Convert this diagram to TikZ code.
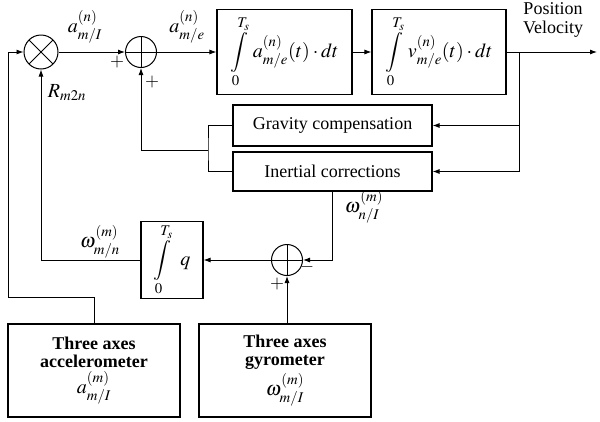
\documentclass[tikz,border=0pt]{standalone}
\usepackage{mathptmx}
\usepackage{fontspec}
\setmainfont{Liberation Serif}
\usetikzlibrary{arrows.meta}
\begin{document}
\begin{tikzpicture}[x=1pt,y=-1pt,
  every node/.style={font=\fontsize{18}{20}\selectfont},
  line/.style={draw=black, line width=0.9pt},
  arr/.style={line, -{Latex[length=7pt,width=5pt]}},
  blk/.style={draw=black, line width=1.1pt, rectangle, inner sep=0pt, align=center},
  mathblk/.style={blk, font=\fontsize{20}{22}\selectfont},
  sensor/.style={draw=black, line width=2.6pt, rectangle, inner sep=0pt, align=center, minimum width=172pt, minimum height=93pt},
  mulop/.style={circle, draw=black, line width=1pt, minimum size=34pt, inner sep=0pt,
     path picture={\draw[line width=1pt] (path picture bounding box.north west) -- (path picture bounding box.south east)
        (path picture bounding box.north east) -- (path picture bounding box.south west);}},
  sumop/.style={circle, draw=black, line width=1pt, minimum size=31pt, inner sep=0pt,
     path picture={\draw[line width=1pt] (path picture bounding box.north) -- (path picture bounding box.south)
        (path picture bounding box.east) -- (path picture bounding box.west);}},
  lbl/.style={inner sep=0pt},
  mlbl/.style={inner sep=0pt, font=\fontsize{20}{22}\selectfont}
]
\useasboundingbox (0,0) rectangle (600,421);

% operators
\node[mulop] (mult) at (41,52) {};
\node[sumop] (sum1) at (141,52) {};
\node[sumop] (sum2) at (287,260) {};

% blocks
\node[mathblk, minimum width=135pt, minimum height=85pt] (int1) at (284.5,52)
  {$\displaystyle\int\limits_{0}^{T_s}\, a^{(n)}_{m/e}(t)\cdot dt$};
\node[mathblk, minimum width=134pt, minimum height=85pt] (int2) at (439,52)
  {$\displaystyle\int\limits_{0}^{T_s}\, v^{(n)}_{m/e}(t)\cdot dt$};
\node[blk, minimum width=199pt, minimum height=41pt] (grav) at (332.5,125.5) {Gravity compensation};
\node[blk, minimum width=199pt, minimum height=39pt] (inert) at (332.5,171.5) {Inertial corrections};
\node[mathblk, minimum width=62pt, minimum height=77pt] (intq) at (172,260)
  {$\displaystyle\int\limits_{0}^{T_s}\;\, q$};
\node[sensor] (acc) at (94,370.5)
  {\textbf{Three axes}\\[-2pt]\textbf{accelerometer}\\[3pt]{\fontsize{20}{22}\selectfont$a^{(m)}_{m/I}$}};
\node[sensor] (gyro) at (285,370.5)
  {\textbf{Three axes}\\[-2pt]\textbf{gyrometer}\\[3pt]{\fontsize{20}{22}\selectfont$\omega^{(m)}_{m/I}$}};

% coordinates
\coordinate (out) at (597,52);
\coordinate (tap) at (519,52);
\coordinate (jn) at (208,150);
\coordinate (fb) at (8,297);

% connectors
\draw[arr] (mult.east) -- (sum1.west);
\draw[arr] (sum1.east) -- (int1.west);
\draw[arr] (int1.east) -- (int2.west);
\draw[arr] (int2.east) -- (out);
\draw[arr] (tap) |- (grav.east);
\draw[arr] (tap) |- (inert.east);
\draw[line] (grav.west) -| (jn) |- (inert.west);
\draw[arr] (jn) -| (sum1.south);
\draw[arr] (inert.south) |- (sum2.east);
\draw[arr] (sum2.west) -- (intq.east);
\draw[arr] (intq.west) -| (mult.south);
\draw[arr] (acc.north) |- (fb) |- (mult.west);
\draw[arr] (gyro.north -| sum2.south) -- (sum2.south);

% labels
\node[mlbl] (l1) at (85,27) {$a^{(n)}_{m/I}$};
\node[mlbl] (l2) at (187,27) {$a^{(n)}_{m/e}$};
\node[mlbl] (l3) at (67,93) {$R_{m2n}$};
\node[lbl] (p1) at (117,62) {$+$};
\node[lbl] (p2) at (152,82) {$+$};
\node[mlbl] (l4) at (364,207) {$\omega^{(m)}_{n/I}$};
\node[mlbl] (l5) at (100,242) {$\omega^{(m)}_{m/n}$};
\node[lbl] (m1) at (307,267) {$-$};
\node[lbl] (p3) at (277,284) {$+$};
\node[lbl] (pos) at (553,9) {Position};
\node[lbl] (vel) at (553,29) {Velocity};
\end{tikzpicture}
\end{document}
